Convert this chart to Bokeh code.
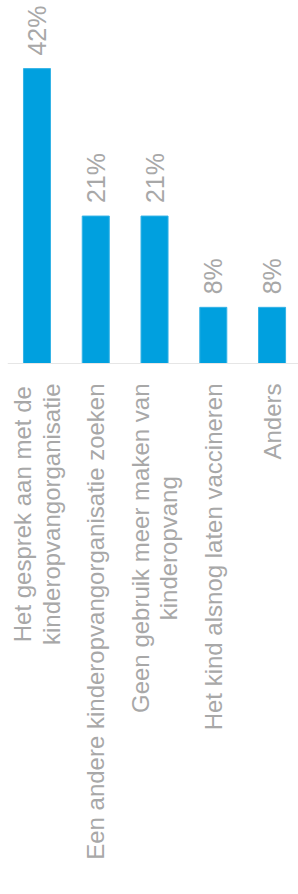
import math
from bokeh.plotting import figure
from bokeh.models import ColumnDataSource, LabelSet, Range1d, Span
from bokeh.core.properties import value
from bokeh.embed import file_html
from bokeh.resources import INLINE

categories = [
    "Het gesprek aan met de\nkinderopvangorganisatie",
    "Een andere kinderopvangorganisatie zoeken",
    "Geen gebruik meer maken van\nkinderopvang",
    "Het kind alsnog laten vaccineren",
    "Anders",
]
values = [42, 21, 21, 8, 8]
value_labels = ["42%", "21%", "21%", "8%", "8%"]

BLUE = "#00a0df"
GRAY = "#a8a8a8"
FONT = "Liberation Sans"
FS = 24          # category label font size, px
LINE_H = 1.2 * FS
STANDOFF = 20

# Arial / Liberation Sans advance widths (per 1000 em) for centring wrapped lines
_W = dict(zip("abcdefghijklmnopqrstuvwxyz",
              [556, 556, 500, 556, 556, 278, 556, 556, 222, 222, 500, 222, 833,
               556, 556, 556, 556, 333, 500, 278, 556, 500, 722, 500, 500, 500]))
_W.update({" ": 278, "A": 667, "E": 667, "G": 778, "H": 722})


def text_width(s):
    return sum(_W.get(ch, 556) for ch in s) / 1000.0 * FS


# layout: bar area 363 px tall for 0..51.7, labels below inside the frame
H = 883
BAR_AREA = 363
Y_TOP = 51.7
scale = BAR_AREA / Y_TOP
y_start = Y_TOP - H / scale

xs = list(range(len(categories)))
src = ColumnDataSource(dict(x=xs, top=values, lab=value_labels))

lx, ly, ltext, lxo, lyo = [], [], [], [], []
for i, cat in enumerate(categories):
    lines = cat.split("\n")
    block = max(text_width(l) for l in lines)
    n = len(lines)
    for j, line in enumerate(lines):
        lx.append(i)
        ly.append(0)
        ltext.append(line)
        lxo.append((j - (n - 1) / 2) * LINE_H)
        lyo.append(-(STANDOFF + block / 2))
cat_src = ColumnDataSource(dict(x=lx, y=ly, text=ltext, xo=lxo, yo=lyo))

p = figure(
    output_backend="svg", toolbar_location=None,
    width=298, height=H,
    x_range=Range1d(-0.502, 4.45), y_range=Range1d(y_start, Y_TOP),
    x_axis_location=None, y_axis_location=None,
    min_border_left=7, min_border_right=0,
    min_border_top=0, min_border_bottom=0,
)
p.outline_line_color = None
p.xgrid.visible = False
p.ygrid.visible = False

p.vbar(x="x", top="top", width=0.46, source=src, fill_color=BLUE,
       line_color="#35b3e6", line_width=1)

p.add_layout(Span(location=0, dimension="width", line_color="#e6e6e6",
                  line_width=1))

labels = LabelSet(x="x", y="top", text="lab", source=src, angle=math.pi / 2,
                  text_align="left", text_baseline="middle", y_offset=13,
                  text_font=value(FONT), text_font_size="25px", text_color=GRAY)
p.add_layout(labels)

cat_labels = LabelSet(x="x", y="y", text="text", source=cat_src,
                      x_offset="xo", y_offset="yo", angle=math.pi / 2,
                      text_align="center", text_baseline="middle",
                      text_font=value(FONT), text_font_size=f"{FS}px",
                      text_color=GRAY)
p.add_layout(cat_labels)

open("out.html", "w").write(file_html(p, INLINE))
